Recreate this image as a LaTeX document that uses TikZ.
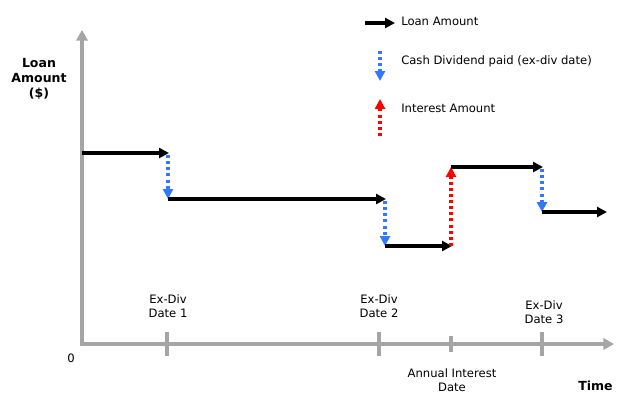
\documentclass[tikz,border=0pt]{standalone}
\usepackage{fontspec}
\setmainfont{DejaVu Sans}
\usetikzlibrary{arrows.meta}
\definecolor{axisgray}{RGB}{165,165,165}
\definecolor{divblue}{RGB}{51,119,255}
\definecolor{intred}{RGB}{255,0,0}
\tikzset{
  axis/.style={draw=axisgray, line width=2.8pt, -{Triangle[length=8pt,width=8.5pt]}},
  tick/.style={draw=axisgray, line width=2.4pt},
  loan/.style={draw=black, line width=2.4pt, -{Triangle[length=7.5pt,width=7.5pt]}},
  divid/.style={draw=divblue, line width=2.5pt, dash pattern=on 2.3pt off 2.3pt,
    -{Triangle[length=7.5pt,width=7.5pt]}},
  interest/.style={draw=intred, line width=2.5pt, dash pattern=on 2.3pt off 2.3pt,
    -{Triangle[length=7.5pt,width=7.5pt]}},
  lbl/.style={font=\fontsize{8.7pt}{10.2pt}\selectfont, align=center, inner sep=0pt},
  leg/.style={font=\fontsize{8.7pt}{10.2pt}\selectfont, anchor=west, inner sep=0pt},
  bold/.style={font=\fontsize{9.4pt}{11pt}\selectfont\bfseries, align=center, inner sep=0pt}
}
\begin{document}
\begin{tikzpicture}[x=0.75pt, y=-0.75pt]
\useasboundingbox (0,0) rectangle (620,394);

% axes
\coordinate (origin) at (82,344);
\coordinate (ytop) at (82,30);
\coordinate (xend) at (614,344);
\draw[axis] (82,346) -- (ytop);
\draw[axis] (80,344) -- (xend);

% ticks on the time axis
\coordinate (t1) at (167,344);
\coordinate (t2) at (379,344);
\coordinate (t3) at (451,344);
\coordinate (t4) at (542,344);
\draw[tick] ([yshift=-9pt]t1) -- ([yshift=9pt]t1);
\draw[tick] ([yshift=-9pt]t2) -- ([yshift=9pt]t2);
\draw[tick] ([yshift=-6pt]t3) -- ([yshift=6pt]t3);
\draw[tick] ([yshift=-9pt]t4) -- ([yshift=9pt]t4);

% axis labels
\node[lbl] (zero) at (71,358) {0};
\node[bold] (ylabel) at (39,79) {Loan\\Amount\\(\$)};
\node[bold, anchor=east] (time) at (613,386) {Time};
\node[lbl] (d1) at (168,306) {Ex-Div\\Date 1};
\node[lbl] (d2) at (379,306) {Ex-Div\\Date 2};
\node[lbl] (d3) at (544,312) {Ex-Div\\Date 3};
\node[lbl] (ai) at (452,380) {Annual Interest\\Date};

% loan amount path
\coordinate (p0) at (82,153);
\coordinate (p1) at (169,153);
\coordinate (p2) at (168,199);
\coordinate (p3) at (386,199);
\coordinate (p4) at (385,246);
\coordinate (p5) at (452,246);
\coordinate (p6) at (451,167);
\coordinate (p7) at (543,167);
\coordinate (p8) at (542,212);
\coordinate (p9) at (607,212);

\draw[loan] (p0) -- (p1);
\draw[divid] (168,155) -- (p2);
\draw[loan] (p2) -- (p3);
\draw[divid] (385,201) -- (p4);
\draw[loan] (p4) -- (p5);
\draw[interest] (451,246) -- (p6);
\draw[loan] (p6) -- (p7);
\draw[divid] (542,169) -- (p8);
\draw[loan] (p8) -- (p9);

% legend
\coordinate (l1a) at (365,23);
\coordinate (l1b) at (395,23);
\draw[loan] (l1a) -- (l1b);
\node[leg] (leg1) at (401,21) {Loan Amount};
\coordinate (l2a) at (380,51);
\coordinate (l2b) at (380,81);
\draw[divid] (l2a) -- (l2b);
\node[leg] (leg2) at (401,61) {Cash Dividend paid (ex-div date)};
\coordinate (l3a) at (380,136);
\coordinate (l3b) at (380,99);
\draw[interest] (l3a) -- (l3b);
\node[leg] (leg3) at (401,108) {Interest Amount};
\end{tikzpicture}
\end{document}
